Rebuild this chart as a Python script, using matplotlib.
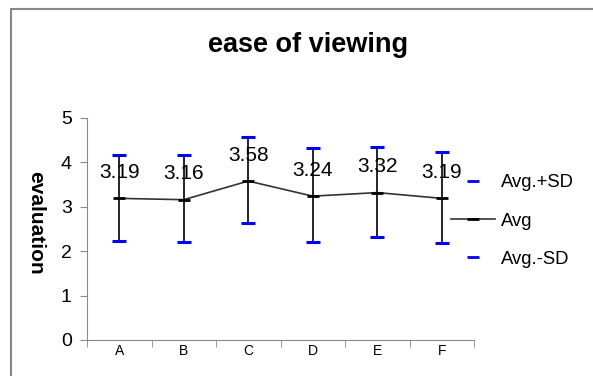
import matplotlib.pyplot as plt
from matplotlib.lines import Line2D
from matplotlib.patches import Rectangle

plt.rcParams["font.family"] = ["Liberation Sans", "DejaVu Sans"]

categories = ["A", "B", "C", "D", "E", "F"]
avg = [3.19, 3.16, 3.58, 3.24, 3.32, 3.19]
avg_plus_sd = [4.17, 4.17, 4.57, 4.32, 4.35, 4.23]
avg_minus_sd = [2.24, 2.20, 2.63, 2.20, 2.32, 2.18]

fig = plt.figure(figsize=(5.93, 3.76), dpi=100)
fig.patches.append(Rectangle((11 / 593, -0.1), 1.2, 1.1 - 9 / 376, transform=fig.transFigure,
                             fill=False, edgecolor="#888888", linewidth=1.5))
ax = fig.add_axes([87 / 593, 1 - 340 / 376, (474 - 87) / 593, (340 - 118) / 376])

x = list(range(len(categories)))
ax.vlines(x, avg_minus_sd, avg_plus_sd, color="black", linewidth=1.2, zorder=2)
ax.plot(x, avg, color="#333333", linewidth=1.2, marker="_", markersize=9,
        markeredgecolor="black", markeredgewidth=2, zorder=3)
ax.plot(x, avg_plus_sd, linestyle="none", marker="_", markersize=10,
        markeredgecolor="#0000ee", markeredgewidth=2.2, zorder=4)
ax.plot(x, avg_minus_sd, linestyle="none", marker="_", markersize=10,
        markeredgecolor="#0000ee", markeredgewidth=2.2, zorder=4)

for xi, v in zip(x, avg):
    ax.annotate(f"{v:.2f}", (xi, v), xytext=(0, 26), textcoords="offset pixels",
                ha="center", va="center", fontsize=15)

ax.set_xlim(-0.5, 5.5)
ax.set_ylim(0, 5)
ax.set_yticks(range(6))
ax.set_xticks(x)
ax.set_xticklabels(categories, fontsize=10)
ax.set_xticks([i - 0.5 for i in range(len(categories) + 1)], minor=True)
ax.tick_params(axis="x", which="major", length=0, pad=3)
ax.tick_params(axis="x", which="minor", length=5, color="#888888", direction="out")
ax.tick_params(axis="y", labelsize=14, length=5, color="#888888", pad=6)
for side in ["top", "right"]:
    ax.spines[side].set_visible(False)
for side in ["left", "bottom"]:
    ax.spines[side].set_color("#888888")

ax.set_ylabel("evaluation", fontsize=15, fontweight="bold", rotation=-90, va="center")
ax.yaxis.set_label_coords((36 - 87) / 387, 0.53)
fig.text(308 / 593, 1 - 45 / 376, "ease of viewing", ha="center", va="center",
         fontsize=19.5, fontweight="bold")

handles = [
    Line2D([], [], linestyle="none", marker="_", markersize=8, markeredgecolor="#0000ee", markeredgewidth=2),
    Line2D([], [], color="#333333", linewidth=1.2, marker="_", markersize=8,
           markeredgecolor="black", markeredgewidth=2),
    Line2D([], [], linestyle="none", marker="_", markersize=8, markeredgecolor="#0000ee", markeredgewidth=2),
]
fig.legend(handles, ["Avg.+SD", "Avg", "Avg.-SD"], loc="center left",
           bbox_to_anchor=(451 / 593, 1 - 221 / 376), frameon=False, fontsize=13.3,
           borderpad=0, borderaxespad=0, handlelength=2.4, handletextpad=0.3, labelspacing=1.15)

fig.savefig("out.png", dpi=100)
